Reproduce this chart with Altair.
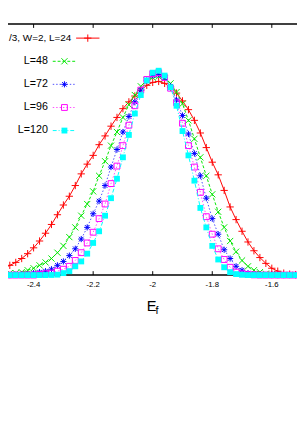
import altair as alt
import pandas as pd

# ---- data ----
E_f = [-2.50, -2.48, -2.46, -2.44, -2.42, -2.40, -2.38, -2.36, -2.34, -2.32,
       -2.30, -2.28, -2.26, -2.24, -2.22, -2.20, -2.18, -2.16, -2.14, -2.12,
       -2.10, -2.08, -2.06, -2.04, -2.02, -2.00, -1.98, -1.96, -1.94, -1.92,
       -1.90, -1.88, -1.86, -1.84, -1.82, -1.80, -1.78, -1.76, -1.74, -1.72,
       -1.70, -1.68, -1.66, -1.64, -1.62, -1.60, -1.58, -1.56, -1.54, -1.52,
       -1.50]

p_L24 = [0.07, 0.10, 0.13, 0.17, 0.22, 0.28, 0.35, 0.43, 0.52, 0.62,
         0.72, 0.81, 0.92, 1.04, 1.14, 1.23, 1.34, 1.43, 1.53, 1.62,
         1.71, 1.78, 1.84, 1.90, 1.95, 1.98, 1.99, 1.97, 1.93, 1.87,
         1.79, 1.70, 1.59, 1.46, 1.31, 1.16, 1.03, 0.87, 0.70, 0.57,
         0.45, 0.34, 0.25, 0.18, 0.12, 0.07, 0.04, 0.02, 0.01, 0.005,
         0.003]

p_L48 = [0.01, 0.02, 0.02, 0.03, 0.05, 0.07, 0.10, 0.13, 0.17, 0.23,
         0.30, 0.39, 0.49, 0.61, 0.73, 0.86, 1.02, 1.17, 1.33, 1.47,
         1.62, 1.75, 1.85, 1.94, 2.00, 2.03, 2.04, 2.02, 1.97, 1.88,
         1.76, 1.59, 1.40, 1.21, 1.02, 0.83, 0.65, 0.49, 0.35, 0.24,
         0.15, 0.09, 0.05, 0.03, 0.015, 0.007, 0.004, 0.002, 0.001, 0.0,
         0.0]

p_L72 = [0.0, 0.0, 0.005, 0.007, 0.01, 0.02, 0.03, 0.04, 0.06, 0.10,
         0.14, 0.20, 0.27, 0.37, 0.49, 0.63, 0.76, 0.92, 1.11, 1.29,
         1.47, 1.63, 1.78, 1.90, 2.00, 2.05, 2.06, 2.03, 1.94, 1.80,
         1.64, 1.45, 1.25, 1.02, 0.79, 0.58, 0.42, 0.26, 0.17, 0.09,
         0.05, 0.02, 0.01, 0.005, 0.002, 0.0, 0.0, 0.0, 0.0, 0.0,
         0.0]

p_L96 = [0.0, 0.0, 0.0, 0.0, 0.0, 0.0, 0.007, 0.014, 0.02, 0.04,
         0.06, 0.09, 0.15, 0.23, 0.33, 0.44, 0.58, 0.73, 0.94, 1.12,
         1.33, 1.54, 1.74, 1.90, 2.01, 2.07, 2.08, 2.03, 1.92, 1.77,
         1.56, 1.33, 1.11, 0.85, 0.60, 0.42, 0.27, 0.16, 0.08, 0.03,
         0.014, 0.005, 0.002, 0.0, 0.0, 0.0, 0.0, 0.0, 0.0, 0.0,
         0.0]

p_L120 = [0.0, 0.0, 0.0, 0.0, 0.0, 0.0, 0.0, 0.0, 0.001, 0.004,
          0.02, 0.04, 0.09, 0.14, 0.22, 0.33, 0.45, 0.61, 0.79, 0.99,
          1.21, 1.44, 1.66, 1.85, 2.00, 2.08, 2.10, 2.05, 1.93, 1.74,
          1.48, 1.23, 0.97, 0.69, 0.49, 0.30, 0.16, 0.08, 0.03, 0.01,
          0.003, 0.0, 0.0, 0.0, 0.0, 0.0, 0.0, 0.0, 0.0, 0.0,
          0.0]

series_labels = ["/3, W=2, L=24", "L=48", "L=72", "L=96", "L=120"]
series_values = [p_L24, p_L48, p_L72, p_L96, p_L120]

tick_values = [-2.4, -2.2, -2.0, -1.8, -1.6]
tick_labels = ["-2.4", "-2.2", "-2", "-1.8", "-1.6"]

# ---- styling ----
W, H = 297, 258
FONT = "Liberation Sans"
xs = alt.Scale(domain=[-2.486, -1.5154], nice=False, zero=False)
ys = alt.Scale(domain=[0, 2.58], nice=False, zero=False)

PLUS = "M-1,0L1,0M0,-1L0,1"
CROSS = "M-1,-1L1,1M-1,1L1,-1"
STAR = "M-1,0L1,0M0,-1L0,1M-0.75,-0.75L0.75,0.75M-0.75,0.75L0.75,-0.75"

styles = [
    dict(color="#ff0000", dash=None, shape=PLUS, filled=False, size=56, lop=1.0),
    dict(color="#00e600", dash=[3, 2], shape=CROSS, filled=False, size=40, lop=1.0),
    dict(color="#0000ff", dash=[1.5, 2], shape=STAR, filled=False, size=40, lop=0.7),
    dict(color="#ff00ff", dash=[1.5, 2], shape="square", filled=False, size=36, lop=0.7),
    dict(color="#00ffff", dash=[4, 2, 1, 2], shape="square", filled=True, size=36, lop=1.0),
]

# legend geometry (pixels inside the plot area)
leg_rows_y = [14.5, 38.3, 62.0, 85.8, 109.5]
leg_text_x = [65, 41, 41, 41, 41]
leg_text_size = [10.2, 11, 11, 11, 11]
leg_line_x0 = [70, 46, 46, 46, 46]
leg_line_x1 = [94, 70, 70, 70, 70]


def line_kw(st):
    kw = dict(color=st["color"], strokeWidth=1, opacity=st["lop"])
    if st["dash"] is not None:
        kw["strokeDash"] = st["dash"]
    return kw


def point_kw(st):
    return dict(shape=st["shape"], filled=st["filled"], color=st["color"],
                size=st["size"], strokeWidth=1, opacity=1)


layers = []

# frame lines (top and bottom axes)
one = pd.DataFrame({"k": [0]})
layers.append(alt.Chart(one).mark_rule(color="black", strokeWidth=1.5).encode(
    x=alt.value(0), x2=alt.value(W), y=alt.value(0)))
layers.append(alt.Chart(one).mark_rule(color="black", strokeWidth=1.5).encode(
    x=alt.value(0), x2=alt.value(W), y=alt.value(H)))

ticks = pd.DataFrame({"t": tick_values, "lab": tick_labels})
layers.append(alt.Chart(ticks).mark_rule(color="black", strokeWidth=1).encode(
    x=alt.X("t:Q", scale=xs, axis=None), y=alt.value(H), y2=alt.value(H - 4)))
layers.append(alt.Chart(ticks).mark_rule(color="black", strokeWidth=1).encode(
    x=alt.X("t:Q", scale=xs, axis=None), y=alt.value(0), y2=alt.value(4)))
layers.append(alt.Chart(ticks).mark_text(font=FONT, fontSize=8, color="black",
                                         baseline="alphabetic", align="center").encode(
    x=alt.X("t:Q", scale=xs, axis=None), y=alt.value(H + 12.5), text="lab:N"))

# axis title E_f
layers.append(alt.Chart(pd.DataFrame({"s": ["E"]})).mark_text(
    font=FONT, fontSize=15, color="black", align="left", baseline="alphabetic").encode(
    x=alt.value(142.5), y=alt.value(295), text="s:N"))
layers.append(alt.Chart(pd.DataFrame({"s": ["f"]})).mark_text(
    font=FONT, fontSize=11, color="black", align="left", baseline="alphabetic").encode(
    x=alt.value(151.5), y=alt.value(298), text="s:N"))

# curves
for lab, vals, st in zip(series_labels, series_values, styles):
    d = pd.DataFrame({"E": E_f, "P": vals})
    enc = dict(x=alt.X("E:Q", scale=xs, axis=None), y=alt.Y("P:Q", scale=ys, axis=None))
    layers.append(alt.Chart(d).mark_line(**line_kw(st)).encode(**enc))
    layers.append(alt.Chart(d).mark_point(**point_kw(st)).encode(**enc))

# legend
for i, (lab, st) in enumerate(zip(series_labels, styles)):
    row = pd.DataFrame({"lab": [lab]})
    yy = leg_rows_y[i]
    layers.append(alt.Chart(row).mark_text(font=FONT, fontSize=leg_text_size[i], color="black",
                                           align="right", baseline="middle").encode(
        x=alt.value(leg_text_x[i]), y=alt.value(yy), text="lab:N"))
    layers.append(alt.Chart(row).mark_rule(**line_kw(st)).encode(
        x=alt.value(leg_line_x0[i]), x2=alt.value(leg_line_x1[i]), y=alt.value(yy)))
    layers.append(alt.Chart(row).mark_point(**point_kw(st)).encode(
        x=alt.value((leg_line_x0[i] + leg_line_x1[i]) / 2), y=alt.value(yy)))

chart = alt.layer(*layers).properties(
    width=W, height=H,
    autosize=alt.AutoSizeParams(type="none"),
    padding={"left": 0, "right": 0, "top": 12, "bottom": 52},
    background="white",
).configure_view(stroke=None)

chart.save("out.html", embed_options={"renderer": "svg", "actions": False})
